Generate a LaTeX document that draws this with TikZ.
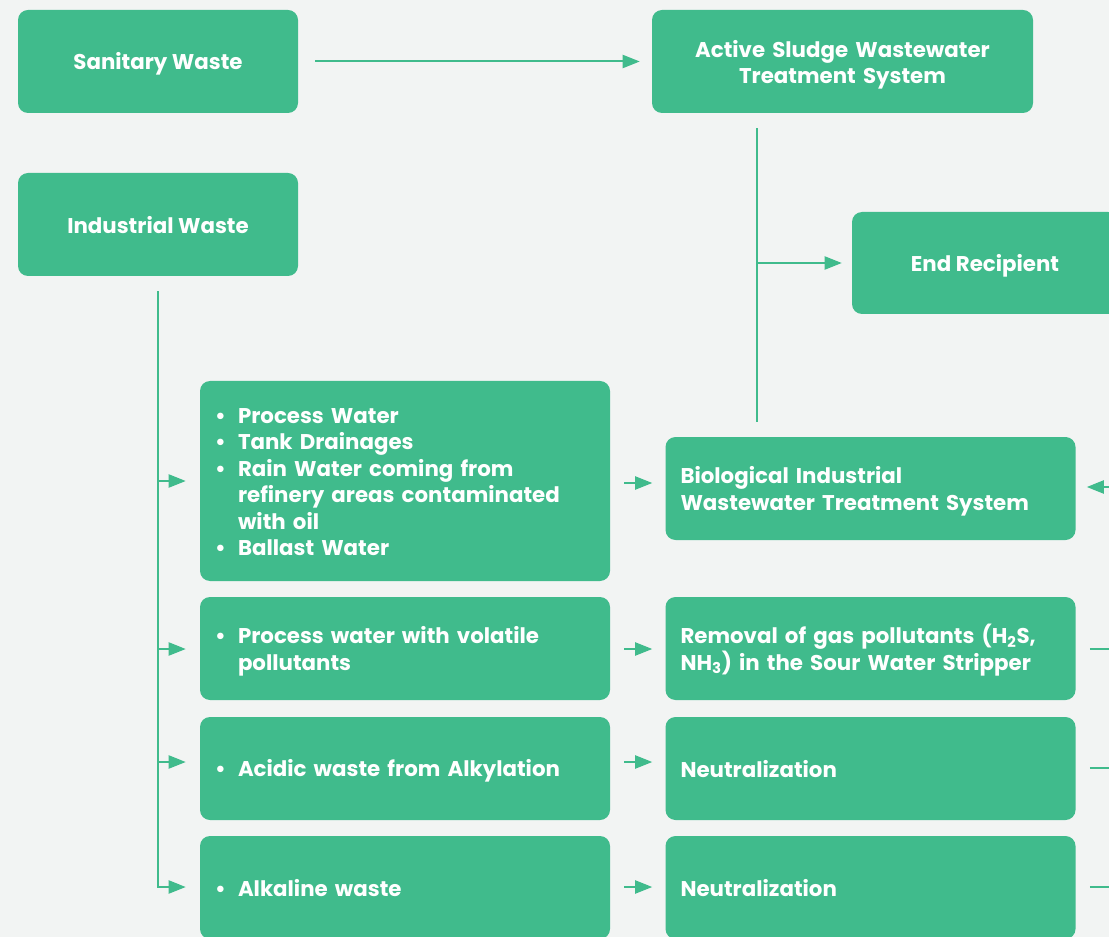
\documentclass[tikz,border=0pt]{standalone}
\usepackage{fontspec}
\setmainfont{Poppins}
\usetikzlibrary{arrows.meta}
\definecolor{grn}{HTML}{40BB8C}
\definecolor{bgc}{HTML}{F2F4F3}
\newcommand{\bul}{\makebox[17.25pt][l]{\textbullet}}
\newcommand{\ind}{\hspace*{17.25pt}}
\newcommand{\sst}{\rule[-0.25em]{0pt}{1.3em}}
\newcommand{\est}{\rule[-0.25em]{0pt}{0.25em}}
\begin{document}
\begin{tikzpicture}[x=0.75pt,y=-0.75pt,
  box/.style={fill=grn, rounded corners=7.5pt, text=white,
    font=\fontsize{16}{19.9}\selectfont\bfseries, inner sep=0pt,
    align=center, minimum height=77.25pt,
    execute at begin node={\sst}, execute at end node={\est}},
  wsmall/.style={minimum width=210pt},
  wbig/.style={minimum width=307.5pt},
  lefttext/.style={align=left, text width=285pt},
  conn/.style={draw=grn, line width=1.5pt},
  arr/.style={conn, -{Triangle[length=12.75pt, width=9.75pt]}}]
\fill[bgc] (0,0) rectangle (1109,937);
\useasboundingbox (0,0) rectangle (1109,937);
\clip (0,0) rectangle (1109,937);
% nodes
\node[box, wsmall] (san) at (158,61.5) {Sanitary Waste};
\node[box, wsmall] (ind) at (158,224.5) {Industrial Waste};
\node[box, minimum width=285.75pt, text width=270pt, align=center,
  execute at begin node={\rule[-0.25em]{0pt}{1.35em}}] (act) at (842.5,61.5) {Active Sludge Wastewater\\Treatment System};
\node[box, minimum width=199.5pt, minimum height=76.5pt] (end) at (985,263) {End Recipient};
\node[box, wbig, lefttext, minimum height=150pt] (b1) at (405,481) {\bul Process Water\\\bul Tank Drainages\\\bul Rain Water coming from\\\ind refinery areas contaminated\\\ind with oil\\\bul Ballast Water};
\node[box, wbig, lefttext] (bio) at (870.5,488.5) {Biological Industrial\\Wastewater Treatment System};
\node[box, wbig, lefttext] (b2) at (405,648.5) {\bul Process water with volatile\\\ind pollutants};
\node[box, wbig, lefttext] (rem) at (870.5,648.5) {Removal of gas pollutants (H\textsubscript{2}S,\\NH\textsubscript{3}) in the Sour Water Stripper};
\node[box, wbig, lefttext] (b3) at (405,768.5) {\bul Acidic waste from Alkylation};
\node[box, wbig, lefttext] (n1) at (870.5,768.5) {Neutralization};
\node[box, wbig, lefttext] (b4) at (405,887.5) {\bul Alkaline waste};
\node[box, wbig, lefttext] (n2) at (870.5,887.5) {Neutralization};
% helper coordinates
\coordinate (vx) at (757,0);
\coordinate (rx) at (1125,0);
\coordinate (r1) at (0,481);
\coordinate (r2) at (0,649);
\coordinate (r3) at (0,762);
\coordinate (r4) at (0,887);
\coordinate (m1) at (0,483);
\coordinate (q1) at (0,487);
\coordinate (q3) at (0,768);
% connectors
\draw[arr, shorten <=12.75pt, shorten >=9pt] (san.east) -- (act.west);
\draw[conn, shorten <=11.25pt, shorten >=11.25pt] (act.south -| vx) -- (bio.north -| vx);
\draw[arr, shorten >=7.5pt] (vx |- end.west) -- (end.west);
\draw[arr, shorten <=11.25pt, shorten >=10.5pt] (ind.south) |- (b4.west |- r4);
\draw[arr, shorten >=10.5pt] (ind.south |- r1) -- (b1.west |- r1);
\draw[arr, shorten >=10.5pt] (ind.south |- r2) -- (b2.west |- r2);
\draw[arr, shorten >=10.5pt] (ind.south |- r3) -- (b3.west |- r3);
\draw[arr, shorten <=10.5pt, shorten >=9.75pt] (b1.east |- m1) -- (bio.west |- m1);
\draw[arr, shorten <=10.5pt, shorten >=9.75pt] (b2.east |- r2) -- (rem.west |- r2);
\draw[arr, shorten <=10.5pt, shorten >=9.75pt] (b3.east |- r3) -- (n1.west |- r3);
\draw[arr, shorten <=10.5pt, shorten >=9.75pt] (b4.east |- r4) -- (n2.west |- r4);
\draw[arr, shorten >=8.25pt] (rx |- q1) -- (bio.east |- q1);
\draw[conn, shorten <=10.5pt] (rem.east |- r2) -- (rx |- r2);
\draw[conn, shorten <=10.5pt] (n1.east |- q3) -- (rx |- q3);
\draw[conn, shorten <=10.5pt] (n2.east |- r4) -- (rx |- r4);
\end{tikzpicture}
\end{document}
